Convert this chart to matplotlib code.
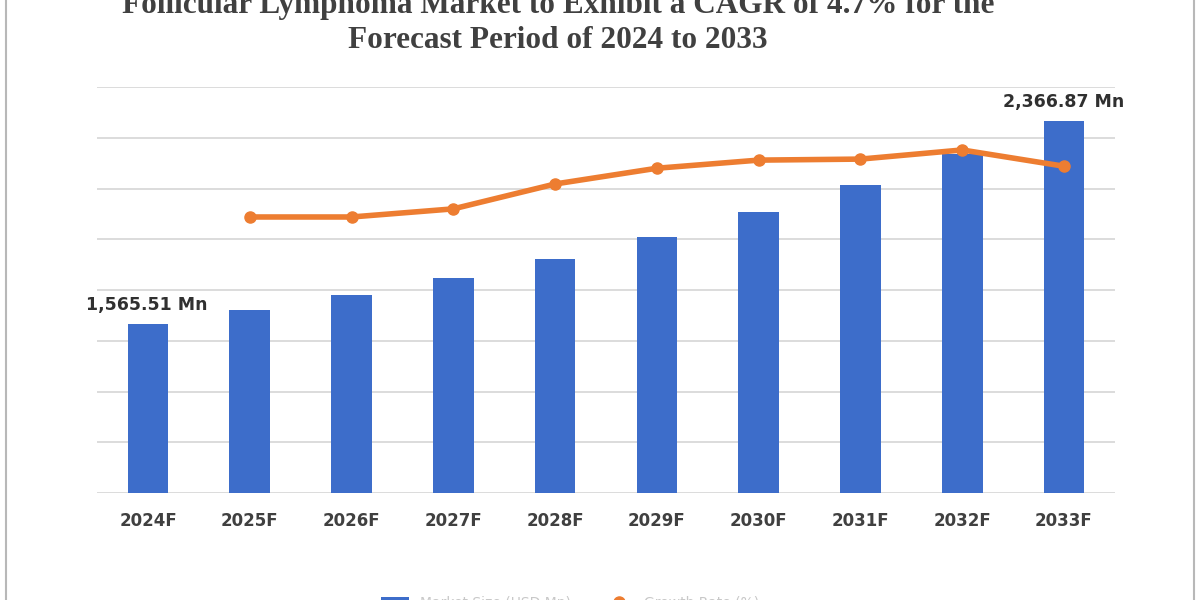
import matplotlib.pyplot as plt
import numpy as np

years = ["2024F", "2025F", "2026F", "2027F", "2028F",
         "2029F", "2030F", "2031F", "2032F", "2033F"]
# market size, USD Mn (end labels, the rest)
market_size = [1565.51, 1620.5, 1679.4, 1746.2, 1820.8,
               1911.1, 2009.3, 2115.4, 2237.2, 2366.87]
# growth line (secondary, hidden axis), no point for 2024F
growth_years = years[1:]
growth_rate = [5.44, 5.44, 5.60, 6.09, 6.40, 6.56, 6.58, 6.76, 6.44]

bar_labels = {0: "1,565.51 Mn", 9: "2,366.87 Mn"}

fig = plt.figure(figsize=(12, 6), dpi=100)
fig.patch.set_facecolor("white")
ax = fig.add_axes([0.081, 0.178, 0.848, 0.677])

x = np.arange(len(years))
ax.bar(x, market_size, width=0.40, color="#3D6DCA", zorder=3, label="Market Size (USD Mn)")
ax.set_xlim(-0.5, len(years) - 0.5)
ax.set_ylim(900, 2500)
ax.set_yticks(np.arange(900, 2501, 200))
ax.yaxis.grid(True, color="#D9D9D9", linewidth=1.3, zorder=0)
ax.set_xticks(x)
ax.set_xticklabels(years, fontsize=12, fontweight="bold", color="#404040")
for s in ax.spines.values():
    s.set_visible(False)

for i, txt in bar_labels.items():
    if i == 0:
        ax.text(x[i] + 0.58, market_size[i] + 40, txt, ha="right", va="bottom",
                fontsize=12.5, fontweight="bold", color="#303030", zorder=5)
    else:
        ax.text(x[i], market_size[i] + 40, txt, ha="center", va="bottom",
                fontsize=12.5, fontweight="bold", color="#303030", zorder=5)

ax2 = ax.twinx()
gx = [years.index(y) for y in growth_years]
ax2.plot(gx, growth_rate, color="#ED7D31", linewidth=4, marker="o",
         markersize=8, zorder=4, label="Growth Rate (%)")
ax2.set_ylim(0, 8)
ax2.axis("off")

# twinx turns the left ticks back on
ax.tick_params(axis="y", left=False, right=False, labelleft=False, labelright=False)
ax.tick_params(axis="x", bottom=False, pad=10)

fig.text(0.465, 0.99, "Follicular Lymphoma Market to Exhibit a CAGR of 4.7% for the",
         ha="center", va="center", fontsize=22.5, fontweight="bold",
         family="Liberation Serif", color="#404040")
fig.text(0.465, 0.932, "Forecast Period of 2024 to 2033",
         ha="center", va="center", fontsize=22.5, fontweight="bold",
         family="Liberation Serif", color="#404040")

h1, l1 = ax.get_legend_handles_labels()
h2, l2 = ax2.get_legend_handles_labels()
leg = fig.legend(h1 + h2, l1 + l2, loc="upper center", bbox_to_anchor=(0.475, 0.028),
                 ncol=2, frameon=False, fontsize=10, handlelength=2.0, columnspacing=2.5)
for t in leg.get_texts():
    t.set_color("#C8C8C8")

# thin frame around the picture
fig.add_artist(plt.Rectangle((0.005, -0.01), 0.99, 1.02, transform=fig.transFigure,
                             fill=False, edgecolor="#B8B8B8", linewidth=1.5))

fig.savefig("out.png", dpi=100)
